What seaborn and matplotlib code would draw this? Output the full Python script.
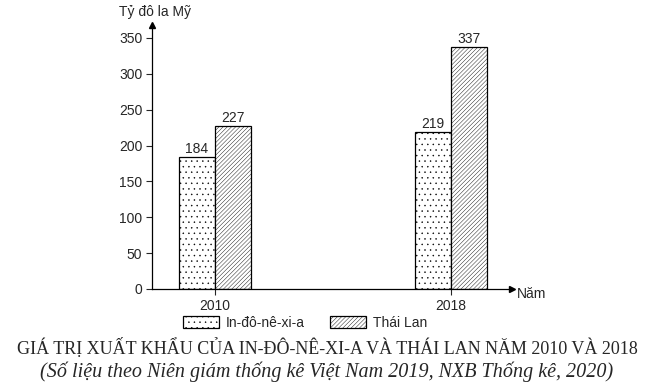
import numpy as np
import pandas as pd
import matplotlib
matplotlib.use("Agg")
import matplotlib.pyplot as plt
import seaborn as sns
from matplotlib.patches import Patch

# Data
years = ["2010", "2018"]
countries = ["In-đô-nê-xi-a", "Thái Lan"]
indonesia = [184, 219]
thailand = [227, 337]

df = pd.DataFrame({
    "Năm": years * 2,
    "Nước": [countries[0]] * 2 + [countries[1]] * 2,
    "Giá trị": indonesia + thailand,
})

sns.set_style("white")
plt.rcParams["font.family"] = ["Liberation Sans", "DejaVu Sans"]
plt.rcParams["hatch.linewidth"] = 0.3

fig = plt.figure(figsize=(6.53, 3.83), dpi=100)
ax = fig.add_axes([152 / 653, 1 - 289 / 383, 360 / 653, 264 / 383])

sns.barplot(data=df, x="Năm", y="Giá trị", hue="Nước", hue_order=countries,
            palette=["white", "white"], width=0.305, edgecolor="black",
            linewidth=0.9, legend=False, ax=ax)

hatches = ["...", "////////"]
for cont, h in zip(ax.containers, hatches):
    for bar in cont:
        bar.set_hatch(h)
        bar.set_alpha(1)
    ax.bar_label(cont, padding=1, fontsize=10)

ax.set_xlim(-0.267, 1.258)
ax.set_ylim(0, 368)
ax.set_yticks(np.arange(0, 351, 50))
ax.set_xlabel("")
ax.set_ylabel("")
ax.tick_params(axis="both", labelsize=10, length=4, width=0.8, direction="out",
               left=True, bottom=True, pad=3)

for side in ["top", "right"]:
    ax.spines[side].set_visible(False)
for side in ["left", "bottom"]:
    ax.spines[side].set_color("black")
    ax.spines[side].set_linewidth(0.9)

# axis arrows
ax.plot(0, 1, "^k", markersize=5, transform=ax.transAxes, clip_on=False)
ax.plot(1, 0, ">k", markersize=5, transform=ax.transAxes, clip_on=False)

fig.text(155 / 653, 1 - 12 / 383, "Tỷ đô la Mỹ", ha="center", va="center", fontsize=10)
fig.text(517 / 653, 1 - 294 / 383, "Năm", ha="left", va="center", fontsize=10)

handles = [Patch(facecolor="white", edgecolor="black", hatch=h, linewidth=0.9)
           for h in hatches]
fig.legend(handles, countries, loc="center", bbox_to_anchor=(305 / 653, 1 - 323 / 383),
           ncol=2, frameon=False, fontsize=10, handlelength=2.6, handleheight=0.95,
           handletextpad=0.5, columnspacing=1.8)

fig.text(327 / 653, 1 - 348 / 383,
         "GIÁ TRỊ XUẤT KHẨU CỦA IN-ĐÔ-NÊ-XI-A VÀ THÁI LAN NĂM 2010 VÀ 2018",
         ha="center", va="center", fontsize=13, family="Liberation Serif")
fig.text(327 / 653, 1 - 372 / 383,
         "(Số liệu theo Niên giám thống kê Việt Nam 2019, NXB Thống kê, 2020)",
         ha="center", va="center", fontsize=14.5, family="Liberation Serif", style="italic")

fig.savefig("out.png", dpi=100)
